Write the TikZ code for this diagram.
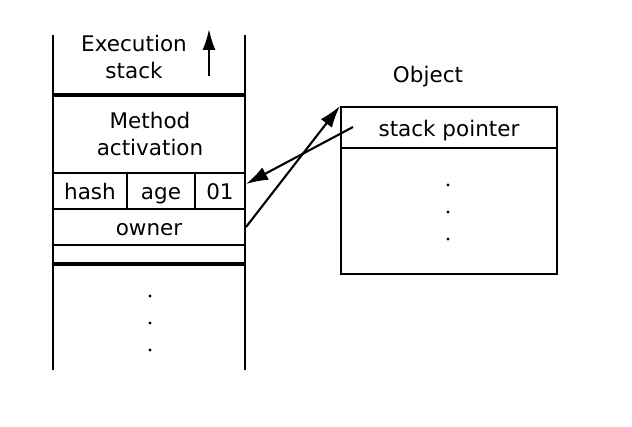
\documentclass[tikz,border=0pt]{standalone}
\usepackage{fontspec}
\setmainfont{DejaVu Sans}
\usetikzlibrary{arrows.meta}
\tikzset{
  frameline/.style={line width=2.1pt},
  heavy/.style={line width=3.4pt},
  cell/.style={draw, line width=2.1pt, inner sep=0pt, minimum height=36pt,
    text height=19pt, text depth=1pt},
  ptr/.style={line width=2.1pt, -{Latex[length=22pt,width=14pt]}},
}

\begin{document}
\begin{tikzpicture}[x=1pt, y=-1pt, font=\fontsize{21.5}{26.5}\selectfont]
      \useasboundingbox (0,0) rectangle (632,427);
      % execution stack
      \draw[frameline] (53,35) -- (53,370);
      \draw[frameline] (245,35) -- (245,370);
      \node[align=center] (exec) at (134,57) {Execution\\stack};
      \coordinate (grow) at (209,76);
      \draw[frameline, -{Latex[length=21pt,width=13pt]}] (grow) -- ++(0,-47);
      \draw[heavy] (53,95) -- (245,95);
      \node[align=center] (method) at (150,134) {Method\\activation};
      \node[cell, minimum width=74pt] (hash) at (90,191) {hash};
      \node[cell, minimum width=68pt] (age) at (161,191) {age};
      \node[cell, minimum width=50pt] (flag) at (220,191) {01};
      \node[cell, minimum width=192pt] (owner) at (149,227) {owner};
      \draw[heavy] (53,264) -- (245,264);
      \foreach \y in {296,323,350} \fill (150,\y) circle (1.6);
      % object
      \node (objlabel) at (428,77) {Object};
      \node[cell, minimum width=216pt, minimum height=41pt] (sp) at (449,127.5) {stack pointer};
      \node[cell, minimum width=216pt, minimum height=126pt] (body) at (449,211) {};
      \foreach \y in {185,212,239} \fill (448,\y) circle (1.6);
      % pointers
      \coordinate (sptail) at (353,127);
      \draw[ptr] (sptail) -- ([yshift=7pt]flag.east);
      \draw[ptr] (owner.east) -- (sp.north west);
    \end{tikzpicture}
\end{document}
